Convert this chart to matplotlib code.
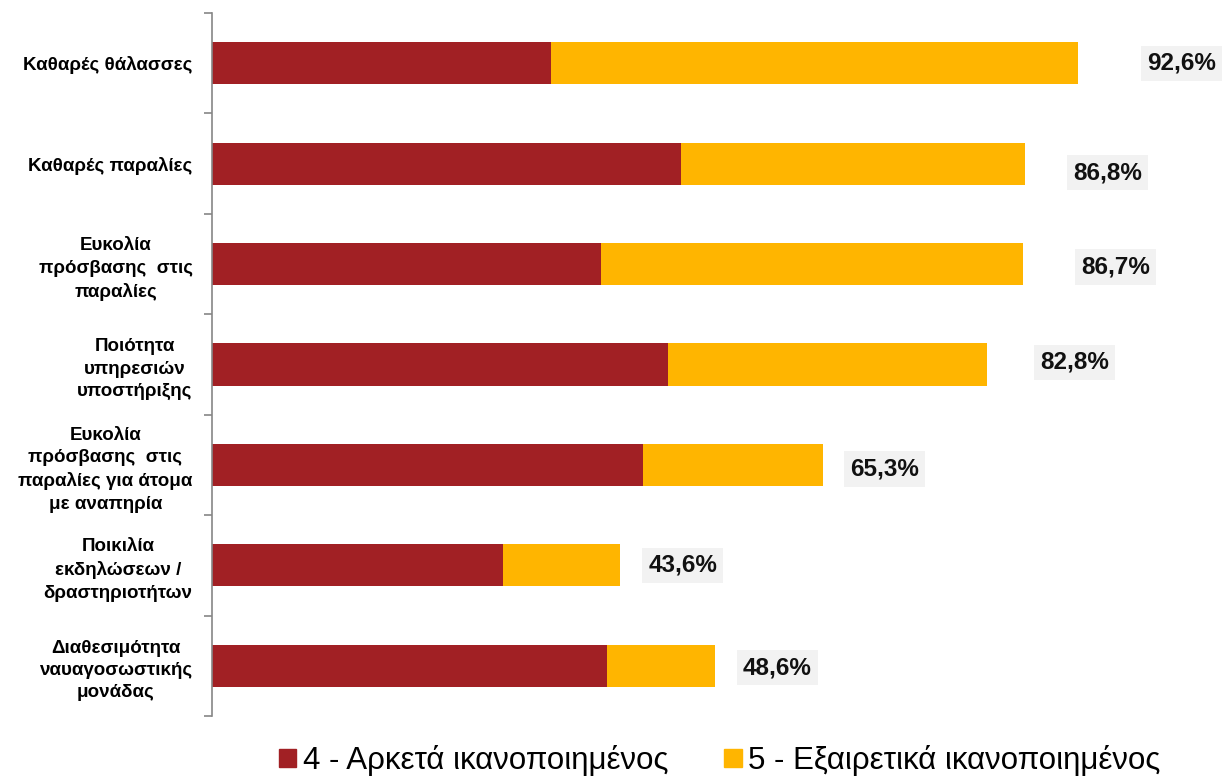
import matplotlib
matplotlib.use("Agg")
import matplotlib.pyplot as plt
import numpy as np
from matplotlib.patches import Patch

# dados
categorias = [
    "Καθαρές θάλασσες",
    "Καθαρές παραλίες",
    "Ευκολία\nπρόσβασης  στις\nπαραλίες",
    "Ποιότητα\nυπηρεσιών\nυποστήριξης",
    "Ευκολία\nπρόσβασης  στις\nπαραλίες για άτομα\nμε αναπηρία",
    "Ποικιλία\nεκδηλώσεων /\nδραστηριοτήτων",
    "Διαθεσιμότητα\nναυαγοσωστικής\nμονάδας",
]
arketa = [36.3, 50.1, 41.6, 48.8, 46.1, 31.1, 42.2]
exairetika = [56.3, 36.8, 45.1, 34.1, 19.2, 12.5, 11.6]
rotulos = ["92,6%", "86,8%", "86,7%", "82,8%", "65,3%", "43,6%", "48,6%"]
serie_nomes = ["4 - Αρκετά ικανοποιημένος", "5 - Εξαιρετικά ικανοποιημένος"]

# deslocamento dos rótulos (px) em relação ao fim da barra
desloc_x = [104, 83, 93, 87, 62, 63, 62]
desloc_y = [0, -9, -3, 2, -4, 0, -2]

cor_vermelho = "#A12024"
cor_amarelo = "#FFB500"

plt.rcParams["font.family"] = ["Liberation Sans", "DejaVu Sans"]

fig = plt.figure(figsize=(12.22, 7.8), dpi=100)
ax = fig.add_axes([212 / 1222, 64 / 780, 1010 / 1222, 703 / 780])

y = np.arange(len(categorias))
ax.barh(y, arketa, height=0.42, color=cor_vermelho)
ax.barh(y, exairetika, left=arketa, height=0.42, color=cor_amarelo)

totais = np.array(arketa) + np.array(exairetika)
for i in range(len(categorias)):
    ax.annotate(rotulos[i], xy=(totais[i], y[i]),
                xytext=(desloc_x[i] * 0.72, desloc_y[i] * 0.72),
                textcoords="offset points", ha="center", va="center",
                fontsize=17.5, fontweight="bold", color="#111111",
                bbox=dict(boxstyle="square,pad=0.25", fc="#F2F2F2", ec="none"))

ax.set_xlim(0, 108)
ax.set_ylim(len(categorias) - 0.5, -0.5)

ax.set_yticks(y)
ax.set_yticklabels(categorias, fontsize=13.5, fontweight="bold",
                   multialignment="center", linespacing=1.42)
ax.tick_params(axis="y", which="major", length=0, pad=14)
ax.set_yticks(np.arange(-0.5, len(categorias)), minor=True)
ax.tick_params(axis="y", which="minor", length=6, color="#868686", width=1.2)

ax.set_xticks([])
for lado in ["top", "right", "bottom"]:
    ax.spines[lado].set_visible(False)
ax.spines["left"].set_color("#868686")
ax.spines["left"].set_linewidth(1.2)

legenda = [Patch(color=cor_vermelho, label=serie_nomes[0]),
           Patch(color=cor_amarelo, label=serie_nomes[1])]
fig.legend(handles=legenda, loc="lower center", bbox_to_anchor=(0.589, -0.031),
           ncol=2, frameon=False, fontsize=22.5, handlelength=0.55,
           handleheight=0.55, handletextpad=0.2, columnspacing=1.8)

plt.savefig("out.png", dpi=100)
